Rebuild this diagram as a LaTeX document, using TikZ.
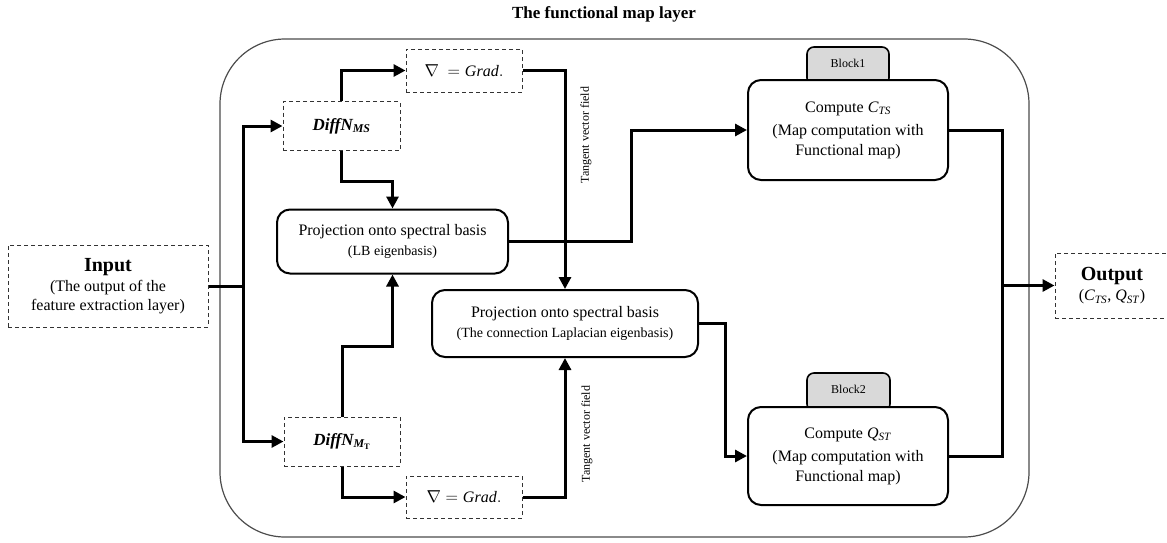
\documentclass[tikz,border=0pt]{standalone}
\usepackage{fontspec}
\setmainfont{Liberation Serif}
\usetikzlibrary{arrows.meta}
\begin{document}
\begin{tikzpicture}[x=1pt,y=-1pt,
  arr/.style={line width=3pt, -{Triangle[length=12pt,width=12pt]}},
  ln/.style={line width=3pt},
  dbox/.style={draw=black!80, dash pattern=on 4pt off 3pt, line width=1pt, inner sep=0pt, align=center},
  rbox/.style={draw, line width=2pt, rounded corners=13pt, fill=white, inner sep=0pt, align=center},
  tabbox/.style={draw, line width=1.6pt, rounded corners=7pt, fill=black!15, inner sep=0pt, font=\fontsize{12}{14}\selectfont},
  tang/.style={rotate=90, inner sep=0pt, font=\fontsize{12}{14}\selectfont}
]
\useasboundingbox (0,0) rectangle (1167,542);

\node (title) at (604,14) {\fontsize{17}{20}\selectfont\bfseries The functional map layer};

\draw[line width=1.2pt, draw=black!70, rounded corners=65pt] (220,39) rectangle (1029,537);

% dashed boxes
\node[dbox, minimum width=200pt, minimum height=82pt, font=\fontsize{16}{19}\selectfont] (inp) at (108,286)
  {{\fontsize{20}{22}\selectfont\bfseries Input}\\[1pt]
   (The output of the\\ feature extraction layer)};
\node[dbox, minimum width=117pt, minimum height=49pt] (dms) at (341.5,126)
  {\fontsize{17}{20}\selectfont\bfseries\itshape DiffN\textsubscript{MS}};
\node[dbox, minimum width=116pt, minimum height=49pt] (dmt) at (342,441.5)
  {\fontsize{17}{20}\selectfont\bfseries\itshape DiffN\textsubscript{M\textsubscript{\upshape T}}};
\node[dbox, minimum width=116pt, minimum height=43pt] (gt) at (464,70.5)
  {\fontsize{16}{19}\selectfont $\nabla\ = \mathit{Grad.}$};
\node[dbox, minimum width=116pt, minimum height=42pt] (gb) at (464,497)
  {\fontsize{16}{19}\selectfont $\nabla = \mathit{Grad.}$};
\node[dbox, minimum width=114pt, minimum height=65pt, font=\fontsize{16}{19}\selectfont] (out) at (1112,285.5)
  {{\fontsize{20}{22}\selectfont\bfseries Output}\\[1pt]
   (\textit{C}\textsubscript{\textit{TS}}, \textit{Q}\textsubscript{\textit{ST}})};

% rounded boxes
\node[rbox, minimum width=231pt, minimum height=64pt, font=\fontsize{16}{20}\selectfont] (lb) at (392.5,241.5)
  {Projection onto spectral basis\\
   {\fontsize{14}{17}\selectfont (LB eigenbasis)}};
\node[rbox, minimum width=266pt, minimum height=67pt, font=\fontsize{16}{20}\selectfont] (cl) at (565,323.5)
  {Projection onto spectral basis\\
   {\fontsize{14}{17}\selectfont (The connection Laplacian eigenbasis)}};

\node[tabbox, minimum width=82pt, minimum height=38pt] (b1) at (848,66) {\raisebox{6pt}{Block1}};
\node[rbox, minimum width=200pt, minimum height=100pt, font=\fontsize{16}{20}\selectfont] (cts) at (848,130)
  {Compute \textit{C}\textsubscript{\textit{TS}}\\[3pt]
   (Map computation with\\ Functional map)};
\node[tabbox, minimum width=83pt, minimum height=38pt] (b2) at (848.5,392) {\raisebox{6pt}{Block2}};
\node[rbox, minimum width=200pt, minimum height=98pt, font=\fontsize{16}{20}\selectfont] (qst) at (848,456)
  {Compute \textit{Q}\textsubscript{\textit{ST}}\\[3pt]
   (Map computation with\\ Functional map)};

% labels
\node[tang] (t1) at (586,135) {Tangent vector field};
\node[tang] (t2) at (587,434) {Tangent vector field};

% connectors
\coordinate (busL) at (243,286);
\coordinate (busR) at (1002,285.5);
\draw[ln] (inp.east) -- (busL);
\draw[arr] (busL) |- (dms.west);
\draw[arr] (busL) |- (dmt.west);
\draw[arr] (dms.north) |- (gt.west);
\draw[arr] (dms.south) -- ++(0,30) -| (lb.north);
\draw[arr] (dmt.north) -- ++(0,-70) -| (lb.south);
\draw[arr] (dmt.south) |- (gb.west);
\draw[arr] (gt.east) -| (cl.north);
\draw[arr] (gb.east) -| (cl.south);
\draw[arr] (lb.east) -- ++(122,0) |- (cts.west);
\draw[arr] (cl.east) -- ++(26,0) |- (qst.west);
\draw[ln] (cts.east) -| (busR);
\draw[ln] (qst.east) -| (busR);
\draw[arr] (busR) -- (out.west);
\end{tikzpicture}
\end{document}
